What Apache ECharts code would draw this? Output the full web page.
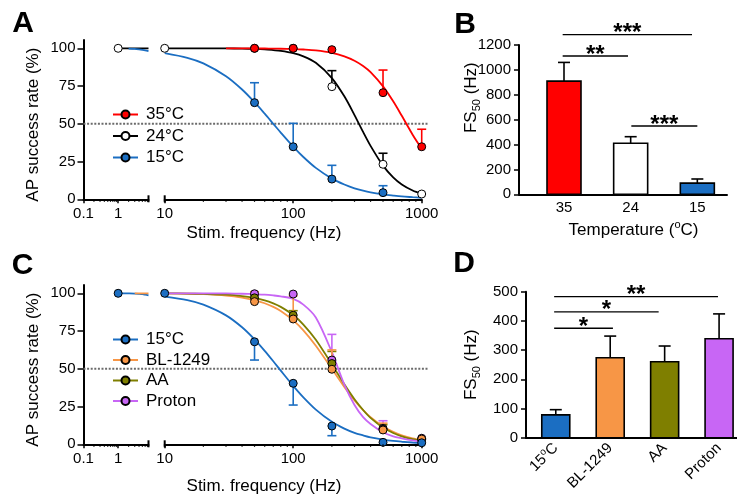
<!DOCTYPE html>
<html><head><meta charset="utf-8">
<script src="https://cdn.jsdelivr.net/npm/echarts@6/dist/echarts.min.js"></script>
<style>html,body{margin:0;padding:0;background:#fff}#c{width:737px;height:498px}</style>
</head><body><div id="c"></div>
<script>
// ---------------- data ----------------
const RATE_TICKS = [0, 25, 50, 75, 100];
const SEG1_RANGE = [0.1, 7.5];
const SEG2_RANGE = [10, 1000];
const SEG1_LABELS = [0.1, 1];
const SEG2_LABELS = [10, 100, 1000];
const MINOR_SEG1 = [0.2, 0.3, 0.4, 0.5, 0.6, 0.7, 0.8, 0.9, 2, 3, 4, 5, 6, 7];
const MINOR_SEG2 = [20, 30, 40, 50, 60, 70, 80, 90, 200, 300, 400, 500, 600, 700, 800, 900];
const HALF_LINE = 50;

// Panel A
const A_TEMPS = ['35°C', '24°C', '15°C'];
const A_FREQ_35 = [50, 100, 200, 500, 1000];
const A_RATE_35 = [100, 100, 99.1, 70.6, 34.8];
const A_SEM_35 = [0, 0, 0, 15.0, 11.6];
const A_FREQ_24 = [1, 10, 50, 100, 200, 500, 1000];
const A_RATE_24 = [100, 100, 100, 100, 74.6, 23.2, 3.5];
const A_SEM_24 = [0, 0, 0, 0, 10.6, 7.3, 0];
const A_FREQ_15 = [50, 100, 200, 500];
const A_RATE_15 = [64.0, 34.8, 13.4, 4.4];
const A_SEM_15 = [13.2, 15.5, 9.1, 4.6];

// fitted curves
const SEG1_X = [1, 2, 3, 4, 5, 6, 7.5];
const FIT_X = [10, 15, 20, 30, 40, 50, 60, 70, 80, 100, 120, 150, 200, 250, 300, 350, 400, 500, 600, 700, 850, 1000];
const A_FIT_35 = [null, null, null, 100, 100, 99.9, 99.86, 99.8, 99.7, 99.5, 99.2, 98.6, 97.0, 94.7, 91.8, 88.3, 84.2, 74.8, 64.9, 55.3, 42.8, 33.5];
const A_FIT_24 = [100, 100, 99.97, 99.9, 99.8, 99.6, 99.3, 98.8, 98.3, 96.8, 94.7, 90.4, 80.3, 68.2, 55.8, 44.6, 35.4, 22.3, 14.5, 9.8, 5.8, 3.7];
const A_FIT_15 = [96.8, 93.7, 90, 81.5, 72.7, 64.3, 56.7, 50, 44.2, 34.9, 28, 20.8, 13.7, 9.8, 7.3, 5.7, 4.6, 3.3, 2.5, 1.9, 1.4, 1.0];
const A_SEG1_24 = [100, 100, 100, 100, 100, 100, 100];
const A_SEG1_15 = [null, 99.8, 99.6, 99.3, 99.0, 98.7, 98.2];

// Panel B
const B_CATS = ['35', '24', '15'];
const B_FS50 = [910, 410, 90];
const B_SEM = [150, 53, 33];
const B_SIG_FROM = [0.98, 0.98, 2.01];
const B_SIG_TO = [2.92, 1.96, 3.0];
const B_SIG_Y = [1283, 1112, 549];
const B_SIG_TXT = ['***', '**', '***'];

// Panel C
const C_GROUPS = ['15°C', 'BL-1249', 'AA', 'Proton'];
const C_FREQ_LOW = [1, 10];
const C_RATE_LOW_15 = [100, 100];
const C_FREQ = [50, 100, 200, 500, 1000];
const C_RATE_15 = [67.9, 40.4, 12.1, 1.3, 1.0];
const C_SEM_15 = [12.1, 14.4, 6.4, 0, 0];
const C_RATE_BL = [94.5, 83, 49.7, 9.5, 3.5];
const C_SEM_BL = [6.5, 15.4, 12.8, 4.5, 0];
const C_RATE_AA = [97, 85.5, 53.5, 10, 3];
const C_SEM_AA = [2, 3, 8, 3, 0];
const C_RATE_PR = [99.7, 99.5, 55.8, 10.6, 4];
const C_SEM_PR = [0, 0, 17, 5, 0];
const C_FIT_15 = [97.8, 95.5, 92.5, 85.4, 77.5, 69.5, 61.9, 55, 48.8, 38.7, 31.1, 23, 14.9, 10.4, 7.6, 5.9, 4.6, 3.1, 2.2, 1.7, 1.2, 0.9];
const C_FIT_BL = [99.9, 99.7, 99.4, 98.5, 97.2, 95.5, 93.4, 91, 88.3, 82.1, 75.5, 65.3, 50, 38, 29, 22.6, 17.9, 11.8, 8.2, 6, 4, 2.8];
const C_FIT_AA = [100, 99.8, 99.6, 99.1, 98.2, 96.9, 95.3, 93.3, 91, 85.6, 79.3, 69.2, 52.9, 39.7, 29.8, 22.7, 17.5, 11.1, 7.5, 5.3, 3.4, 2.3];
const C_FIT_PR = [100, 100, 100, 99.9, 99.7, 99.4, 99.1, 98.6, 98, 96.3, 92.5, 84, 61, 39.5, 26, 18, 13.5, 8, 5.3, 4, 2.6, 1.7];
const C_SEG1_15 = [100, 99.9, 99.8, 99.6, 99.4, 99.1, 98.7];
const C_SEG1_BL = [null, null, 100, 100, 100, 99.9, 99.9];

// Panel D
const D_CATS = ['15oC', 'BL-1249', 'AA', 'Proton'];
const D_FS50 = [78, 274, 260, 339];
const D_SEM = [18, 74, 54, 85];
const D_SIG_FROM = [0.97, 0.97, 0.97];
const D_SIG_TO = [3.98, 2.89, 2.05];
const D_SIG_Y = [483, 431, 375];
const D_SIG_TXT = ['**', '*', '*'];

// ---------------- styles ----------------
const FONT = 'Arial, "Liberation Sans", sans-serif';
const RED = '#FF0000', BLUE = '#1B6EC2', ORANGE = '#F79646', OLIVE = '#7F7F00', PURPLE = '#C866F5';
const B_COLORS = [RED, '#FFFFFF', BLUE];
const D_COLORS = [BLUE, ORANGE, OLIVE, PURPLE];
const AXIS_LINE = {show: true, lineStyle: {color: '#000', width: 2}};
const FS_NAME = '{m|FS}{s|50}{m| (Hz)}';
const FS_RICH = {
  m: {fontSize: 17, lineHeight: 22, fontFamily: FONT, color: '#000'},
  s: {fontSize: 11, verticalAlign: 'bottom', fontFamily: FONT, color: '#000'}
};

const chart = echarts.init(document.getElementById('c'), null, {renderer: 'canvas'});

function fmtNum(v) { return String(parseFloat((+v).toPrecision(6))); }

function logX(gi, range, labels) {
  return {
    type: 'log', logBase: 10, gridIndex: gi, min: range[0], max: range[1],
    axisLine: AXIS_LINE,
    axisTick: {show: true, length: 4, lineStyle: {color: '#000', width: 1.5}, customValues: labels},
    axisLabel: {customValues: labels, formatter: fmtNum, fontSize: 15, color: '#000', fontFamily: FONT, margin: 7},
    splitLine: {show: false}
  };
}
function hiddenX(gi) { return {type: 'value', gridIndex: gi, min: 0, max: 1, show: false}; }
function rateY(gi, show) {
  return {
    type: 'value', gridIndex: gi, min: 0, max: 105.5, show: show,
    axisLine: AXIS_LINE,
    axisTick: {show: true, length: 6, lineStyle: {color: '#000', width: 1.5}, customValues: RATE_TICKS},
    axisLabel: {customValues: RATE_TICKS, fontSize: 15, color: '#000', fontFamily: FONT, margin: 8},
    splitLine: {show: false},
    name: show ? 'AP success rate (%)' : '', nameLocation: 'middle', nameGap: 42, nameMoveOverlap: false,
    nameTextStyle: {fontSize: 17, color: '#000', fontFamily: FONT, padding: [0, 10, 0, 0]}
  };
}
function barX(gi, min, max, cats, extra) {
  return Object.assign({
    type: 'value', gridIndex: gi, min: min, max: max,
    axisLine: AXIS_LINE, axisTick: {show: false}, splitLine: {show: false},
    axisLabel: {customValues: cats.map((c, i) => i + 1), formatter: v => cats[Math.round(v) - 1] || '',
      fontSize: 15, color: '#000', fontFamily: FONT, margin: 6}
  }, extra || {});
}
function fsY(gi, max, interval, gap, pad) {
  return {
    type: 'value', gridIndex: gi, min: 0, max: max, interval: interval,
    axisLine: AXIS_LINE,
    axisTick: {show: true, length: 5, lineStyle: {color: '#000', width: 1.5}},
    axisLabel: {fontSize: 15, color: '#000', fontFamily: FONT, margin: 8, formatter: v => String(v)},
    splitLine: {show: false},
    name: FS_NAME, nameLocation: 'middle', nameGap: gap, nameMoveOverlap: false,
    nameTextStyle: {rich: FS_RICH, padding: pad}
  };
}

function pairs(xs, ys) { return xs.map((x, i) => [x, ys[i]]).filter(d => d[1] !== null && d[1] !== undefined); }

function curve(name, gi, xs, ys, color, fill) {
  return {
    type: 'line', name: name, xAxisIndex: gi, yAxisIndex: gi, data: pairs(xs, ys),
    smooth: 0.3, showSymbol: false, symbol: 'circle', symbolSize: 8,
    itemStyle: {color: fill || color, borderColor: '#000', borderWidth: 1},
    lineStyle: {color: color, width: 1.8}, z: 2, silent: true, animation: false
  };
}
function dots(name, gi, xs, ys, fill) {
  return {
    type: 'scatter', name: name, xAxisIndex: gi, yAxisIndex: gi, data: pairs(xs, ys),
    symbol: 'circle', symbolSize: 8,
    itemStyle: {color: fill, borderColor: '#000', borderWidth: 1, opacity: 1}, z: 4, silent: true
  };
}
function errBars(gi, xs, ys, sems, color, dir) {
  const data = xs.map((x, i) => [x, ys[i], ys[i] + dir * sems[i]]).filter((d, i) => sems[i] > 0);
  return {
    type: 'custom', xAxisIndex: gi, yAxisIndex: gi, data: data, clip: false, z: 3, silent: true,
    renderItem: (p, api) => {
      const a = api.coord([api.value(0), api.value(1)]);
      const b = api.coord([api.value(0), api.value(2)]);
      const st = {stroke: color, lineWidth: 1.6};
      return {type: 'group', children: [
        {type: 'line', shape: {x1: a[0], y1: a[1], x2: b[0], y2: b[1]}, style: st},
        {type: 'line', shape: {x1: b[0] - 4.5, y1: b[1], x2: b[0] + 4.5, y2: b[1]}, style: st}
      ]};
    }
  };
}
function tickMarks(gi, vals, up, down, width) {
  return {
    type: 'custom', xAxisIndex: gi, yAxisIndex: gi, data: vals.map(v => [v, 0]), clip: false, z: 5, silent: true,
    renderItem: (p, api) => {
      const c = api.coord([api.value(0), 0]);
      return {type: 'line', shape: {x1: c[0], y1: c[1] - up, x2: c[0], y2: c[1] + down},
        style: {stroke: '#000', lineWidth: width}};
    }
  };
}
function halfLine(gi) {
  return {
    type: 'line', xAxisIndex: gi, yAxisIndex: gi, data: [[0, HALF_LINE], [1, HALF_LINE]],
    symbol: 'none', lineStyle: {color: '#6b6b6b', width: 2, type: [2, 1.6]}, z: 1, silent: true
  };
}
function bars(gi, vals, sems, colors, width) {
  return {
    type: 'custom', xAxisIndex: gi, yAxisIndex: gi, data: vals.map((v, i) => [i + 1, v, sems[i]]),
    clip: false, z: 3, silent: true,
    renderItem: (p, api) => {
      const x = api.value(0), v = api.value(1), e = api.value(2);
      const top = api.coord([x, v]), base = api.coord([x, 0]), et = api.coord([x, v + e]);
      const cx = top[0];
      const st = {stroke: '#000', lineWidth: 1.6};
      return {type: 'group', children: [
        {type: 'line', shape: {x1: cx, y1: top[1], x2: cx, y2: et[1]}, style: st},
        {type: 'line', shape: {x1: cx - 6, y1: et[1], x2: cx + 6, y2: et[1]}, style: st},
        {type: 'rect', shape: {x: cx - width / 2, y: top[1], width: width, height: base[1] - top[1]},
          style: {fill: colors[p.dataIndex], stroke: '#000', lineWidth: 1.6}}
      ]};
    }
  };
}
function sig(gi, from, to, ys, labels) {
  return {
    type: 'custom', xAxisIndex: gi, yAxisIndex: gi, data: from.map((f, i) => [f, ys[i], to[i]]),
    clip: false, z: 5, silent: true,
    renderItem: (p, api) => {
      const a = api.coord([api.value(0), api.value(1)]);
      const b = api.coord([api.value(2), api.value(1)]);
      return {type: 'group', children: [
        {type: 'line', shape: {x1: a[0], y1: a[1], x2: b[0], y2: a[1]}, style: {stroke: '#000', lineWidth: 1.4}},
        {type: 'text', x: (a[0] + b[0]) / 2, y: a[1] - 1,
          style: {text: labels[p.dataIndex], font: 'bold 24px ' + FONT, fill: '#000', align: 'center', verticalAlign: 'middle'}}
      ]};
    }
  };
}

const legendBase = {
  orient: 'vertical', itemWidth: 25, itemHeight: 10, selectedMode: false,
  textStyle: {fontSize: 17, color: '#000', fontFamily: FONT, padding: [0, 0, 0, 3]}
};

const option = {
  animation: false,
  grid: [
    {left: 83.5, top: 40, width: 65, height: 159.3},
    {left: 164.7, top: 40, width: 257, height: 159.3},
    {left: 83.5, top: 40, width: 344.5, height: 159.3},
    {left: 519, top: 45, width: 208, height: 149.3},
    {left: 83.5, top: 285, width: 65, height: 159.3},
    {left: 164.7, top: 285, width: 257, height: 159.3},
    {left: 83.5, top: 285, width: 344.5, height: 159.3},
    {left: 526, top: 291.7, width: 210.5, height: 146}
  ],
  xAxis: [
    logX(0, SEG1_RANGE, SEG1_LABELS),
    logX(1, SEG2_RANGE, SEG2_LABELS),
    hiddenX(2),
    barX(3, 0.325, 3.445, B_CATS),
    logX(4, SEG1_RANGE, SEG1_LABELS),
    logX(5, SEG2_RANGE, SEG2_LABELS),
    hiddenX(6),
    barX(7, 0.453, 4.32, D_CATS, {
      axisLabel: {
        customValues: D_CATS.map((c, i) => i + 1), rotate: 45, margin: 8,
        fontSize: 15, color: '#000', fontFamily: FONT,
        formatter: v => {
          const s = D_CATS[Math.round(v) - 1] || '';
          return s.replace(/^(\d+)o(C)$/, '{m|$1}{p|o}{m|$2}');
        },
        rich: {
          m: {fontSize: 15, lineHeight: 19, fontFamily: FONT, color: '#000'},
          p: {fontSize: 10, verticalAlign: 'top', fontFamily: FONT, color: '#000'}
        }
      }
    })
  ],
  yAxis: [
    rateY(0, true), rateY(1, false), rateY(2, false),
    fsY(3, 1200, 200, 37, [0, 0, 0, 44]),
    rateY(4, true), rateY(5, false), rateY(6, false),
    fsY(7, 500, 100, 44, [0, 0, 0, 0])
  ],
  legend: [
    Object.assign({}, legendBase, {data: A_TEMPS, left: 107, top: 101, itemGap: 4.5}),
    Object.assign({}, legendBase, {data: C_GROUPS, left: 107, top: 326, itemGap: 3.5})
  ],
  graphic: [
    {type: 'text', x: 23, y: 24, style: {text: 'A', font: 'bold 30px ' + FONT, fill: '#000', align: 'center', verticalAlign: 'middle'}},
    {type: 'text', x: 465, y: 25, style: {text: 'B', font: 'bold 30px ' + FONT, fill: '#000', align: 'center', verticalAlign: 'middle'}},
    {type: 'text', x: 22.5, y: 266, style: {text: 'C', font: 'bold 30px ' + FONT, fill: '#000', align: 'center', verticalAlign: 'middle'}},
    {type: 'text', x: 464, y: 264, style: {text: 'D', font: 'bold 30px ' + FONT, fill: '#000', align: 'center', verticalAlign: 'middle'}},
    {type: 'text', x: 264, y: 233, style: {text: 'Stim. frequency (Hz)', font: '17px ' + FONT, fill: '#000', align: 'center', verticalAlign: 'middle'}},
    {type: 'text', x: 264, y: 486, style: {text: 'Stim. frequency (Hz)', font: '17px ' + FONT, fill: '#000', align: 'center', verticalAlign: 'middle'}},
    {type: 'text', x: 633.5, y: 230, style: {
      text: '{m|Temperature (}{p|o}{m|C)}', align: 'center', verticalAlign: 'middle',
      rich: {
        m: {fontSize: 17, lineHeight: 22, fontFamily: FONT, fill: '#000', color: '#000'},
        p: {fontSize: 11, verticalAlign: 'top', fontFamily: FONT, fill: '#000', color: '#000'}
      }}}
  ],
  series: [
    // ---- Panel A ----
    halfLine(2),
    curve('24°C', 1, FIT_X, A_FIT_24, '#000', '#FFFFFF'),
    curve('35°C', 1, FIT_X, A_FIT_35, RED),
    curve('15°C', 1, FIT_X, A_FIT_15, BLUE),
    curve('24°C', 0, SEG1_X, A_SEG1_24, '#000', '#FFFFFF'),
    curve('15°C', 0, SEG1_X, A_SEG1_15, BLUE),
    errBars(1, A_FREQ_24, A_RATE_24, A_SEM_24, '#000', 1),
    errBars(1, A_FREQ_35, A_RATE_35, A_SEM_35, RED, 1),
    errBars(1, A_FREQ_15, A_RATE_15, A_SEM_15, BLUE, 1),
    dots('24°C', 0, A_FREQ_24.filter(f => f < 8), A_RATE_24.filter((r, i) => A_FREQ_24[i] < 8), '#FFFFFF'),
    dots('24°C', 1, A_FREQ_24.filter(f => f >= 8), A_RATE_24.filter((r, i) => A_FREQ_24[i] >= 8), '#FFFFFF'),
    dots('35°C', 1, A_FREQ_35, A_RATE_35, RED),
    dots('15°C', 1, A_FREQ_15, A_RATE_15, BLUE),
    tickMarks(0, MINOR_SEG1, 0, 2.5, 1.2),
    tickMarks(1, MINOR_SEG2, 0, 2.5, 1.2),
    tickMarks(0, [SEG1_RANGE[1]], 4, 3, 2),
    tickMarks(1, [SEG2_RANGE[0]], 4, 3, 2),
    // ---- Panel B ----
    bars(3, B_FS50, B_SEM, B_COLORS, 34),
    sig(3, B_SIG_FROM, B_SIG_TO, B_SIG_Y, B_SIG_TXT),
    // ---- Panel C ----
    halfLine(6),
    curve('15°C', 5, FIT_X, C_FIT_15, BLUE),
    curve('BL-1249', 5, FIT_X, C_FIT_BL, ORANGE),
    curve('AA', 5, FIT_X, C_FIT_AA, OLIVE),
    curve('Proton', 5, FIT_X, C_FIT_PR, PURPLE),
    curve('15°C', 4, SEG1_X, C_SEG1_15, BLUE),
    curve('BL-1249', 4, SEG1_X, C_SEG1_BL, ORANGE),
    errBars(5, C_FREQ, C_RATE_15, C_SEM_15, BLUE, -1),
    errBars(5, C_FREQ, C_RATE_AA, C_SEM_AA, OLIVE, 1),
    errBars(5, C_FREQ, C_RATE_PR, C_SEM_PR, PURPLE, 1),
    errBars(5, C_FREQ, C_RATE_BL, C_SEM_BL, ORANGE, 1),
    dots('Proton', 5, C_FREQ, C_RATE_PR, PURPLE),
    dots('AA', 5, C_FREQ, C_RATE_AA, OLIVE),
    dots('BL-1249', 5, C_FREQ, C_RATE_BL, ORANGE),
    dots('15°C', 5, C_FREQ, C_RATE_15, BLUE),
    dots('15°C', 4, C_FREQ_LOW.filter(f => f < 8), C_RATE_LOW_15.filter((r, i) => C_FREQ_LOW[i] < 8), BLUE),
    dots('15°C', 5, C_FREQ_LOW.filter(f => f >= 8), C_RATE_LOW_15.filter((r, i) => C_FREQ_LOW[i] >= 8), BLUE),
    tickMarks(4, MINOR_SEG1, 0, 2.5, 1.2),
    tickMarks(5, MINOR_SEG2, 0, 2.5, 1.2),
    tickMarks(4, [SEG1_RANGE[1]], 4, 3, 2),
    tickMarks(5, [SEG2_RANGE[0]], 4, 3, 2),
    // ---- Panel D ----
    bars(7, D_FS50, D_SEM, D_COLORS, 28),
    sig(7, D_SIG_FROM, D_SIG_TO, D_SIG_Y, D_SIG_TXT)
  ]
};
chart.setOption(option);
</script></body></html>
